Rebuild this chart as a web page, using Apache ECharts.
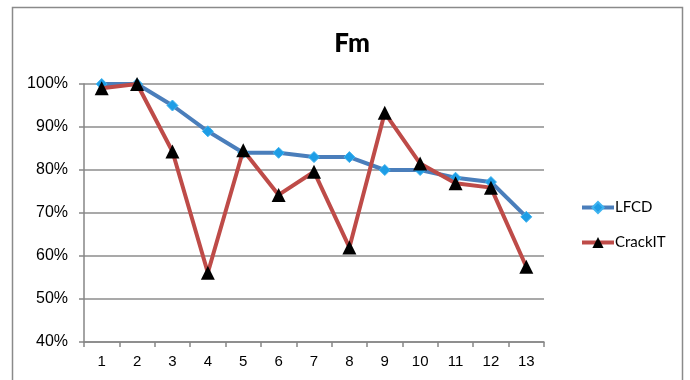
<!DOCTYPE html>
<html>
<head>
<meta charset="utf-8">
<script src="https://cdn.jsdelivr.net/npm/echarts@6/dist/echarts.min.js"></script>
<style>html,body{margin:0;padding:0;background:#fff;}#c{width:690px;height:380px;}</style>
</head>
<body>
<div id="c"></div>
<script>
const categories = ['1','2','3','4','5','6','7','8','9','10','11','12','13'];
const lfcd = [100, 100, 95, 89, 84, 84, 83, 83, 80, 80, 78.2, 77.2, 69.1];
const crackit = [99, 100, 84.3, 56.1, 84.6, 74.2, 79.6, 62, 93.3, 81.5, 76.9, 75.9, 57.5];
const yTicks = {min: 40, max: 100, interval: 10};

const chart = echarts.init(document.getElementById('c'), null, {renderer: 'canvas'});
chart.setOption({
  animation: false,
  backgroundColor: '#fff',
  graphic: [{
    type: 'rect', shape: {x: 12.5, y: 7.5, width: 670, height: 420},
    style: {fill: 'none', stroke: '#8a8a8a', lineWidth: 1.5}, z: 0
  }],
  title: {
    text: 'Fm', left: 347, top: 26, textAlign: 'center',
    textStyle: {fontFamily: 'Lato', fontWeight: 900, fontSize: 26, color: '#000'}
  },
  grid: {left: 84, right: 146, top: 84, bottom: 38, containLabel: false},
  legend: {
    orient: 'vertical', left: 575, top: 195, itemWidth: 32, itemHeight: 14, itemGap: 20,
    lineStyle: {width: 4},
    textStyle: {fontFamily: 'Lato', fontSize: 15, color: '#000', padding: [0,0,0,-4]},
    data: ['LFCD', 'CrackIT']
  },
  xAxis: {
    type: 'category', data: categories, boundaryGap: true,
    axisLine: {lineStyle: {color: '#868686', width: 1.5}},
    axisTick: {show: true, length: 5, lineStyle: {color: '#868686', width: 1.5}},
    axisLabel: {fontFamily: 'Liberation Sans', fontSize: 15, color: '#000', margin: 12}
  },
  yAxis: {
    type: 'value', min: yTicks.min, max: yTicks.max, interval: yTicks.interval,
    axisLine: {show: true, lineStyle: {color: '#868686', width: 1.5}},
    axisTick: {show: true, length: 5, lineStyle: {color: '#868686', width: 1.5}},
    splitLine: {lineStyle: {color: '#8c8c8c', width: 1.5}},
    axisLabel: {formatter: '{value}%', fontFamily: 'Liberation Sans', fontSize: 16, color: '#000', margin: 16}
  },
  series: [
    {
      name: 'LFCD', type: 'line', data: lfcd,
      symbol: 'diamond', symbolSize: 11,
      lineStyle: {color: '#4A7EBB', width: 4},
      itemStyle: {color: '#1E9DE6', borderColor: '#3FB4F0', borderWidth: 1},
      z: 2
    },
    {
      name: 'CrackIT', type: 'line', data: crackit,
      symbol: 'triangle', symbolSize: 14,
      lineStyle: {color: '#BE4B48', width: 4},
      itemStyle: {color: '#000'},
      z: 3
    }
  ]
});
</script>
</body>
</html>
